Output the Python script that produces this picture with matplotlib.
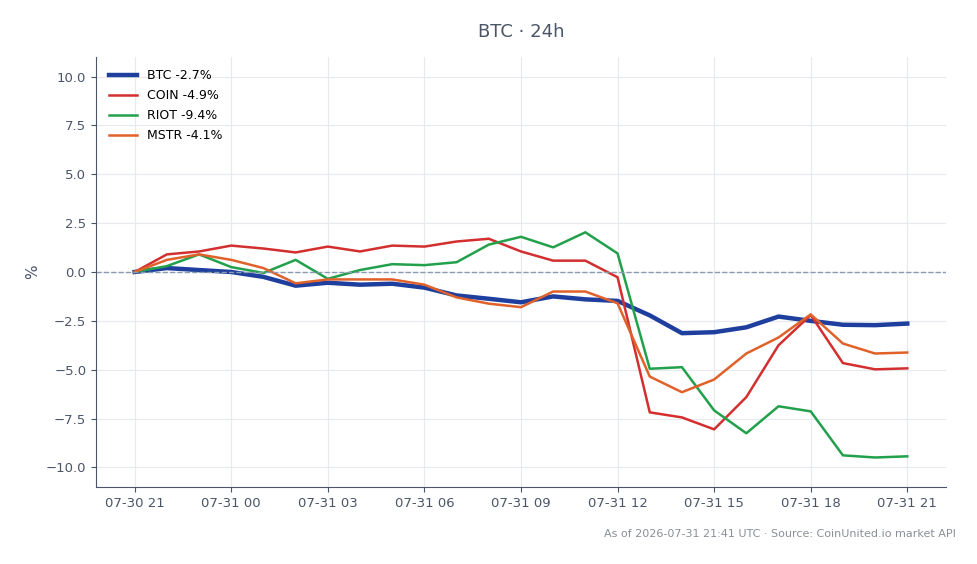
import matplotlib
matplotlib.use("Agg")
import matplotlib.pyplot as plt
import matplotlib.dates as mdates
import pandas as pd

times = pd.date_range("2026-07-30 21:00", "2026-07-31 21:00", freq="h")

btc = [0.0, 0.2, 0.1, 0.0, -0.25, -0.7, -0.55, -0.65, -0.6, -0.8, -1.2, -1.37, -1.55,
       -1.25, -1.4, -1.48, -2.22, -3.13, -3.08, -2.83, -2.28, -2.5, -2.7, -2.72, -2.64]
coin = [0.0, 0.9, 1.05, 1.35, 1.2, 1.0, 1.3, 1.05, 1.35, 1.3, 1.56, 1.7, 1.05,
        0.58, 0.58, -0.27, -7.18, -7.44, -8.05, -6.4, -3.75, -2.2, -4.66, -4.98, -4.93]
riot = [0.0, 0.3, 0.9, 0.25, -0.05, 0.62, -0.35, 0.1, 0.4, 0.35, 0.5, 1.4, 1.8,
        1.26, 2.03, 0.95, -4.95, -4.87, -7.08, -8.25, -6.87, -7.13, -9.38, -9.49, -9.43]
mstr = [0.0, 0.62, 0.9, 0.62, 0.2, -0.58, -0.38, -0.38, -0.38, -0.65, -1.3, -1.62, -1.8,
        -1.0, -1.0, -1.6, -5.35, -6.15, -5.5, -4.17, -3.35, -2.17, -3.66, -4.17, -4.12]

series = [
    ("BTC -2.7%", btc, "#1e3f9e", 3.2),
    ("COIN -4.9%", coin, "#d32f2f", 1.8),
    ("RIOT -9.4%", riot, "#22a04b", 1.8),
    ("MSTR -4.1%", mstr, "#e0612a", 1.8),
]

text_color = "#4a5568"

fig = plt.figure(figsize=(9.78, 5.64), dpi=100)
ax = fig.add_axes([0.0982, 0.1365, 0.869, 0.7625])

for label, vals, color, lw in series:
    ax.plot(times, vals, color=color, linewidth=lw, label=label)

ax.axhline(0, color="#8a9bb0", linestyle="--", linewidth=1)
ax.set_ylim(-11, 11)
ax.set_yticks([-10, -7.5, -5, -2.5, 0, 2.5, 5, 7.5, 10])
ax.xaxis.set_major_locator(mdates.HourLocator(byhour=range(0, 24, 3)))
ax.xaxis.set_major_formatter(mdates.DateFormatter("%m-%d %H"))
ax.set_ylabel("%", color=text_color, fontsize=11)
ax.grid(True, color="#e6e9ee", linewidth=0.8)
ax.set_axisbelow(True)

for side in ["top", "right"]:
    ax.spines[side].set_visible(False)
for side in ["left", "bottom"]:
    ax.spines[side].set_color("#4a5568")
ax.tick_params(colors=text_color, labelsize=9.5)

ax.legend(loc="upper left", frameon=False, fontsize=9, handlelength=2.3,
          labelspacing=0.55, borderaxespad=0.6)
fig.suptitle("BTC · 24h", x=0.533, y=0.96, fontsize=13, color=text_color)
fig.text(0.977, 0.053, "As of 2026-07-31 21:41 UTC · Source: CoinUnited.io market API",
         ha="right", va="center", fontsize=8, color="#8a8f98")

fig.savefig("out.png", dpi=100)
